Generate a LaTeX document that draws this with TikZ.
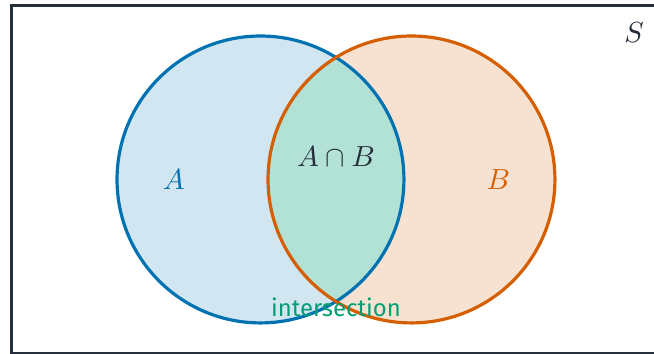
\documentclass[tikz,border=0pt]{standalone}
\usepackage{amsmath,amssymb}
\usepackage{fontspec}
\newfontfamily\labelfont{Fira Sans}
\usepackage{tikz}
\usetikzlibrary{arrows.meta, positioning, calc, backgrounds}
\definecolor{slate}{HTML}{262E3B}
\definecolor{setA}{HTML}{0072B2}
\definecolor{setB}{HTML}{D55E00}
\definecolor{both}{HTML}{009E73}

\begin{document}
\begin{tikzpicture}[
    setline/.style={line width=1.2pt},
    setlabel/.style={font=\fontsize{11}{13}\selectfont},
  ]
  \useasboundingbox (-4.45,-2.311) rectangle (4.212,2.377);
  % Universe
  \draw[slate, line width=1.2pt] (-4.3,-2.3) rectangle (4.4,2.3);
  \node[setlabel, text=slate] (S) at (3.95,1.95) {$S$};
  % Sets
  \coordinate (cA) at (-1,0);
  \coordinate (cB) at (1,0);
  \fill[setA, fill opacity=0.18] (cA) circle (1.9);
  \fill[setB, fill opacity=0.18] (cB) circle (1.9);
  % Overlap
  \begin{scope}
    \clip (cA) circle (1.9);
    \fill[both!30] (cB) circle (1.9);
  \end{scope}
  \draw[setline, setA] (cA) circle (1.9);
  \draw[setline, setB] (cB) circle (1.9);
  % Labels
  \node[setlabel, text=setA] (labA) at (-2.15,0) {$A$};
  \node[setlabel, text=setB] (labB) at (2.15,0) {$B$};
  \node[setlabel, text=slate] (labAB) at (0,0.3) {$A\cap B$};
  \node[font=\labelfont\fontsize{9}{11}\selectfont, text=both] (labI)
        at (0,-1.7) {intersection};
\end{tikzpicture}
\end{document}
